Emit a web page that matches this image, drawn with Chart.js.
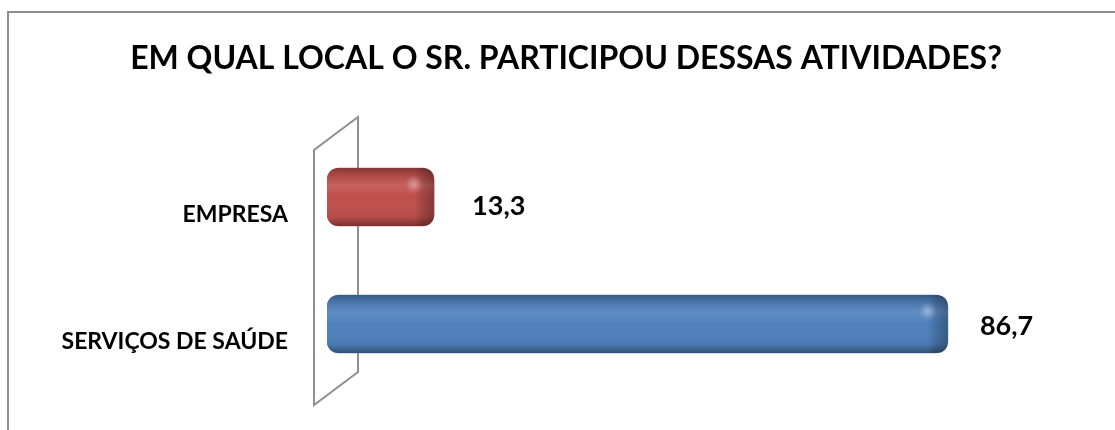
<!DOCTYPE html>
<html lang="pt">
<head>
<meta charset="utf-8">
<title>Local de participação</title>
<script src="https://cdn.jsdelivr.net/npm/chart.js@4.4.1/dist/chart.umd.min.js"></script>
<style>
    html, body { margin: 0; padding: 0; background: #ffffff; }
    #chart-wrap { width: 1115px; height: 430px; }
</style>
</head>
<body>
<div id="chart-wrap">
    <canvas id="local-chart" width="1115" height="430"></canvas>
</div>
<script>
// Données
const titre = 'EM QUAL LOCAL O SR. PARTICIPOU DESSAS ATIVIDADES?';
const categories = ['EMPRESA', 'SERVIÇOS DE SAÚDE'];
const valeurs = [13.3, 86.7];
const couleurs = ['#C0504D', '#4F81BD'];

const FONT = 'Lato, "Open Sans", sans-serif';

/**
 * Cadre gris autour du graphique (il sort de l'image à droite et en bas)
 * et titre centré sur le cadre.
 */
const cadrePlugin = {
    id: 'cadre',
    beforeDraw(chart) {
        const ctx = chart.ctx;
        ctx.save();
        ctx.strokeStyle = '#8c8c8c';
        ctx.lineWidth = 2;
        ctx.strokeRect(8, 12, chart.width + 40, chart.height + 40);

        ctx.fillStyle = '#000000';
        ctx.font = `bold 32px ${FONT}`;
        ctx.textAlign = 'center';
        ctx.textBaseline = 'middle';
        ctx.fillText(titre, 566, 59);
        ctx.restore();
    }
};

/**
 * Paroi 3D (parallélogramme) derrière le début des barres.
 */
const paroiPlugin = {
    id: 'paroi',
    beforeDatasetsDraw(chart) {
        const { ctx, chartArea } = chart;
        const xg = chartArea.left - 13;
        const xd = chartArea.left + 31;
        ctx.save();
        ctx.strokeStyle = '#8f8f8f';
        ctx.lineWidth = 2;
        ctx.beginPath();
        ctx.moveTo(xg, chartArea.bottom + 17.5);
        ctx.lineTo(xg, chartArea.top + 16.5);
        ctx.lineTo(xd, chartArea.top - 16.5);
        ctx.lineTo(xd, chartArea.bottom - 15.5);
        ctx.closePath();
        ctx.stroke();
        ctx.restore();
    }
};

// Chemin arrondi pour une barre
function cheminBarre(ctx, x0, y0, x1, y1, r) {
    ctx.beginPath();
    ctx.moveTo(x0 + r, y0);
    ctx.lineTo(x1 - r, y0);
    ctx.quadraticCurveTo(x1, y0, x1, y0 + r);
    ctx.lineTo(x1, y1 - r);
    ctx.quadraticCurveTo(x1, y1, x1 - r, y1);
    ctx.lineTo(x0 + r, y1);
    ctx.quadraticCurveTo(x0, y1, x0, y1 - r);
    ctx.lineTo(x0, y0 + r);
    ctx.quadraticCurveTo(x0, y0, x0 + r, y0);
    ctx.closePath();
}

/**
 * Effet de relief sur les barres + étiquettes de valeur.
 */
const reliefPlugin = {
    id: 'relief',
    afterDatasetsDraw(chart) {
        const ctx = chart.ctx;
        const meta = chart.getDatasetMeta(0);
        const decalY = [9, 2];
        const ecartX = [38, 32];

        meta.data.forEach((bar, i) => {
            const x0 = Math.min(bar.base, bar.x);
            const x1 = Math.max(bar.base, bar.x);
            const y0 = bar.y - bar.height / 2;
            const y1 = bar.y + bar.height / 2;

            ctx.save();
            cheminBarre(ctx, x0, y0, x1, y1, 12);
            ctx.clip();

            // dégradé vertical
            const gv = ctx.createLinearGradient(0, y0, 0, y1);
            gv.addColorStop(0, 'rgba(0,0,0,0.30)');
            gv.addColorStop(0.12, 'rgba(0,0,0,0.10)');
            gv.addColorStop(0.3, 'rgba(255,255,255,0.10)');
            gv.addColorStop(0.5, 'rgba(255,255,255,0.0)');
            gv.addColorStop(0.85, 'rgba(0,0,0,0.06)');
            gv.addColorStop(1, 'rgba(0,0,0,0.38)');
            ctx.fillStyle = gv;
            ctx.fillRect(x0, y0, x1 - x0, y1 - y0);

            // extrémité droite plus sombre
            const gh = ctx.createLinearGradient(x1 - 20, 0, x1, 0);
            gh.addColorStop(0, 'rgba(0,0,0,0)');
            gh.addColorStop(0.4, 'rgba(0,0,0,0.15)');
            gh.addColorStop(1, 'rgba(0,0,0,0.3)');
            ctx.fillStyle = gh;
            ctx.fillRect(x1 - 20, y0, 20, y1 - y0);

            // reflet
            const gr = ctx.createRadialGradient(x1 - 20, y0 + 16, 0, x1 - 20, y0 + 16, 9);
            gr.addColorStop(0, 'rgba(255,255,255,0.35)');
            gr.addColorStop(1, 'rgba(255,255,255,0)');
            ctx.fillStyle = gr;
            ctx.fillRect(x1 - 30, y0 + 6, 20, 20);
            ctx.restore();

            // étiquette de valeur
            ctx.save();
            ctx.fillStyle = '#000000';
            ctx.font = `bold 27px ${FONT}`;
            ctx.textAlign = 'left';
            ctx.textBaseline = 'middle';
            const texte = valeurs[i].toFixed(1).replace('.', ',');
            ctx.fillText(texte, x1 + ecartX[i], bar.y + decalY[i]);
            ctx.restore();
        });
    }
};

function initGraphique() {
    const el = document.getElementById('local-chart');
    if (!el) {
        console.error('Canvas introuvable.');
        return;
    }

    new Chart(el.getContext('2d'), {
        type: 'bar',
        data: {
            labels: categories,
            datasets: [{
                data: valeurs,
                backgroundColor: couleurs,
                base: -2,
                barThickness: 58,
                borderRadius: 12,
                borderSkipped: false
            }]
        },
        options: {
            indexAxis: 'y',
            responsive: false,
            animation: false,
            devicePixelRatio: 1,
            layout: {
                padding: { top: 133.5, right: 74, bottom: 42.5, left: 0 }
            },
            plugins: {
                legend: { display: false },
                tooltip: { enabled: false },
                title: { display: false }
            },
            scales: {
                x: {
                    display: false,
                    min: -2,
                    max: 100
                },
                y: {
                    // largeur fixe et pas de marge ajoutée par les étiquettes décalées
                    afterFit: (scale) => {
                        scale.width = 327;
                        scale.paddingTop = 0;
                        scale.paddingBottom = 0;
                    },
                    grid: { display: false, drawTicks: false },
                    border: { display: false },
                    ticks: {
                        color: '#000000',
                        padding: 39,
                        labelOffset: 18,
                        font: { family: FONT, size: 23, weight: 'bold' }
                    }
                }
            }
        },
        plugins: [cadrePlugin, paroiPlugin, reliefPlugin]
    });
}

initGraphique();
</script>
</body>
</html>
